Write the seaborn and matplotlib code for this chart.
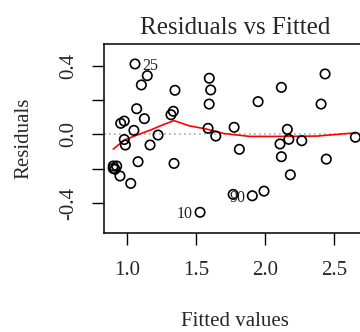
import matplotlib
matplotlib.use("Agg")
import matplotlib.pyplot as plt
import seaborn as sns
import numpy as np

fitted = [1.058, 1.147, 1.104, 1.348, 1.070, 1.126, 0.954, 0.980, 1.050, 1.319,
          1.336, 1.225, 0.980, 0.988, 1.167, 0.900, 0.925, 0.913, 0.900, 0.949,
          1.027, 1.080, 1.341, 1.597, 1.607, 1.596, 1.588, 1.644, 1.777, 1.815,
          1.530, 1.770, 1.909, 1.994, 2.437, 2.120, 1.951, 2.408, 2.163, 2.174,
          2.110, 2.268, 2.657, 2.120, 2.446, 2.185]
residuals = [0.409, 0.341, 0.287, 0.256, 0.149, 0.091, 0.064, 0.077, 0.023, 0.114,
             0.134, -0.004, -0.030, -0.062, -0.062, -0.184, -0.184, -0.203, -0.198, -0.242,
             -0.285, -0.159, -0.169, 0.326, 0.258, 0.176, 0.035, -0.010, 0.041, -0.087,
             -0.453, -0.349, -0.357, -0.330, 0.351, 0.273, 0.190, 0.176, 0.029, -0.029,
             -0.056, -0.037, -0.017, -0.130, -0.144, -0.235]

smooth_x = [0.90, 0.98, 1.07, 1.17, 1.25, 1.34, 1.45, 1.58, 1.70, 1.89, 2.10, 2.38, 2.66]
smooth_y = [-0.086, -0.033, -0.005, 0.025, 0.052, 0.080, 0.050, 0.030, 0.005, -0.012, -0.012, -0.010, 0.009]

label_ids = ["25", "10", "90"]
label_idx = [0, 30, 32]
label_side = ["right", "left", "left"]

xticks = [1.0, 1.5, 2.0, 2.5]
xtick_labels = ["1.0", "1.5", "2.0", "2.5"]
yticks = [-0.4, -0.2, 0.0, 0.2, 0.4]
ytick_labels = ["-0.4", "", "0.0", "", "0.4"]

sns.set_style("white")
plt.rcParams['font.family'] = ['Liberation Serif', 'DejaVu Serif']

fig = plt.figure(figsize=(3.6, 3.32), dpi=100)
ax = fig.add_axes([104 / 360, 1 - 232.6 / 332, 262 / 360, (232.6 - 44) / 332])

ax.axhline(0, color="#AAAAAA", linestyle=(0, (1, 2)), linewidth=1.2, zorder=1)
sns.scatterplot(x=fitted, y=residuals, ax=ax, marker='o', s=46,
                facecolor='none', edgecolor='black', linewidth=1.2, zorder=3)
sns.lineplot(x=smooth_x, y=smooth_y, ax=ax, color='red', linewidth=1.2,
             sort=True, estimator=None, zorder=2)

for lab, i, side in zip(label_ids, label_idx, label_side):
    dx = 5 if side == "right" else -5
    ax.annotate(lab, (fitted[i], residuals[i]), xytext=(dx, -1.5),
                textcoords='offset points', ha='left' if side == "right" else 'right',
                va='center', fontsize=11.5, color='#222222')

ax.set_xlim(0.833, 2.734)
ax.set_ylim(-0.571, 0.525)
ax.set_xticks(xticks)
ax.set_xticklabels(xtick_labels)
ax.set_yticks(yticks)
ax.set_yticklabels(ytick_labels, rotation=90, va='center')

ax.tick_params(axis='both', which='both', direction='out', length=8.5, width=1.0,
               color='black', labelsize=15, left=True, bottom=True)
ax.tick_params(axis='x', pad=12)
ax.tick_params(axis='y', pad=10)
for s in ax.spines.values():
    s.set_visible(True)
    s.set_color('black')
    s.set_linewidth(1.1)

ax.set_title("Residuals vs Fitted", fontsize=18, pad=7)
ax.set_xlabel("Fitted values", fontsize=15, labelpad=23)
ax.set_ylabel("Residuals", fontsize=15, labelpad=19)

fig.savefig("out.png", dpi=100)
